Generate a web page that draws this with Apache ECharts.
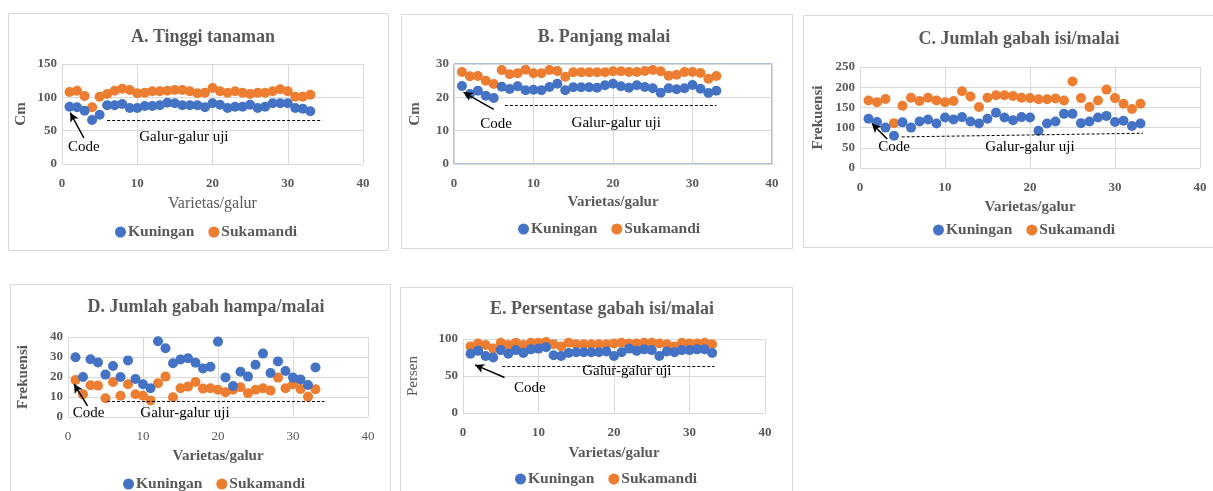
<!DOCTYPE html>
<html><head><meta charset="utf-8">
<script src="https://cdn.jsdelivr.net/npm/echarts@6/dist/echarts.min.js"></script>
<style>html,body{margin:0;padding:0;background:#fff}#c{width:1213px;height:491px}</style>
</head><body><div id="c"></div><script>
const galur = [1,2,3,4,5,6,7,8,9,10,11,12,13,14,15,16,17,18,19,20,21,22,23,24,25,26,27,28,29,30,31,32,33];
const seriesNames = ['Kuningan','Sukamandi'];
const titles = ['A. Tinggi tanaman','B. Panjang malai','C. Jumlah gabah isi/malai','D. Jumlah gabah hampa/malai','E. Persentase gabah isi/malai'];
const yNames = ['Cm','Cm','Frekuensi','Frekuensi','Persen'];
const xName = 'Varietas/galur';
const xTicks = [0,10,20,30,40];
const yMax = [150,30,250,40,100];
const yStep = [50,10,50,10,50];

const tinggiKuningan = [86,85,80,66,74,88,88,90,84,84,87,87,88,92,91,88,88,88,85,91,89,84,86,86,89,84,86,91,91,91,84,83,79];
const tinggiSukamandi = [108,110,102,85,101,105,110,113,111,106,107,109,109,110,111,111,109,106,107,114,109,107,109,107,105,107,107,109,112,109,101,101,104];
const malaiKuningan = [23.4,21.0,22.0,20.5,19.8,23.2,22.5,23.3,22.1,22.3,22.1,23.1,24.1,22.1,23.0,23.0,23.0,22.9,23.6,24.1,23.3,22.9,23.6,23.1,22.7,21.4,22.7,22.4,22.7,23.7,22.6,21.3,22.0];
const malaiSukamandi = [27.6,26.3,26.4,25.0,24.0,28.2,26.9,27.2,28.3,27.2,27.2,28.2,27.9,26.2,27.5,27.5,27.5,27.5,27.5,27.8,27.8,27.6,27.6,27.9,28.2,27.8,26.5,26.8,27.6,27.6,27.3,25.6,26.4];
const isiKuningan = [122,114,100,80,113,100,115,120,110,125,120,126,115,110,122,137,125,118,126,125,92,110,115,134,134,111,115,125,129,114,117,104,110];
const isiSukamandi = [167,163,171,111,154,174,166,174,167,163,166,190,177,151,174,180,180,178,174,173,170,170,172,167,214,173,151,167,194,173,159,146,159];
const hampaKuningan = [29.9,20.0,28.9,27.3,21.2,25.5,20.0,28.3,19.0,16.4,14.4,37.9,34.4,26.9,28.8,29.4,27.1,24.3,25.1,37.7,19.8,15.5,22.6,20.2,26.1,31.7,22.0,27.8,23.0,19.7,18.8,16.0,24.8];
const hampaSukamandi = [18.5,11.4,15.9,15.7,9.4,17.5,10.6,16.4,11.4,10.6,8.3,16.9,20.2,9.9,14.4,15.2,17.5,14.2,14.4,13.6,12.4,13.6,14.9,11.9,13.6,14.4,13.2,19.7,14.4,16.4,14.0,10.2,13.9];
const persenKuningan = [80,84,77,75,85,80,85,81,86,87,89,78,77,81,82,82,82,82,83,77,82,87,84,86,85,77,83,82,85,85,86,86,81];
const persenSukamandi = [90,94,92,87,95,92,95,92,95,95,96,93,90,95,93,93,93,93,93,94,95,94,94,95,95,94,93,90,95,94,94,95,93];

// annotations in data space: [dashStart, dashEnd], [arrowFrom, arrowTo], codeText, galurText
const dashLines = [[[6.0,65],[34.6,65]],[[6.4,17.7],[33.0,17.7]],[[4.9,77],[33.3,86]],[[5.2,7.8],[34.2,7.8]],[[5.2,63],[33.3,63]]];
const arrows = [[[2.9,39],[1.1,77]],[[5.0,16.4],[1.2,21.5]],[[3.2,72],[1.4,110]],[[2.6,5.6],[0.8,16.5]],[[5.5,48],[1.6,65]]];
const codeText = [[2.9,26],[5.3,11.9],[4.0,52],[2.75,2],[8.85,34]];
const galurText = [[16.2,40],[20.4,12.2],[20,52],[15.6,2],[21.7,57]];

const panelData = [[tinggiKuningan,tinggiSukamandi],[malaiKuningan,malaiSukamandi],[isiKuningan,isiSukamandi],[hampaKuningan,hampaSukamandi],[persenKuningan,persenSukamandi]];

const FONT = 'Liberation Serif';
const GRAY = '#595959';
const colors = ['#4472C4','#ED7D31'];
const grids = [
  {left:62,top:64,width:301,height:100},
  {left:454,top:64,width:318,height:100},
  {left:860,top:67,width:340,height:101},
  {left:68,top:337,width:300,height:80},
  {left:463,top:339,width:302,height:74}
];
const titlePos = [[198,23],[599,23],[1014,25],[201,293],[597,295]];
const legendPos = [[110,219],[513,216],[928,217],[118,471],[510,466]];
const boxes = [[8,13,380,237],[401,14,391,234],[803,15,420,232],[10,284,380,220],[400,287,392,220]];
const xNameGap = [32,31,32,32,33];
const yNameGap = [33,31,34,37,42];
const xLabelBold = [true,true,true,false,true];
const xNameBold = [false,true,true,true,true];
const yNameBold = [true,true,true,true,false];

const option = {
  animation:false,
  backgroundColor:'#fff',
  title: titles.map((t,i)=>({text:t,left:titlePos[i][0],top:titlePos[i][1],textAlign:'center',
    textStyle:{fontFamily:FONT,fontWeight:'bold',fontSize:18,color:GRAY}})),
  legend: legendPos.map(p=>({data:seriesNames,left:p[0],top:p[1],icon:'circle',itemWidth:11,itemHeight:11,itemGap:14,
    textStyle:{fontFamily:FONT,fontWeight:'bold',fontSize:15.5,color:GRAY,padding:[0,0,0,-3]}})),
  graphic: boxes.map(b=>({type:'rect',silent:true,z:-10,shape:{x:b[0]+0.5,y:b[1]+0.5,width:b[2],height:b[3]},style:{fill:'none',stroke:'#D9D9D9',lineWidth:1}})),
  grid: grids.map((g,i)=>Object.assign({containLabel:false}, g, i===1?{show:true,borderColor:'#5B7FC7',borderWidth:1}:{show:false})),
  xAxis: grids.map((g,i)=>({type:'value',gridIndex:i,min:xTicks[0],max:xTicks[xTicks.length-1],interval:10,
    name:xName,nameLocation:'middle',nameGap:xNameGap[i],
    nameTextStyle:{fontFamily:FONT,fontSize:xNameBold[i]?15:16,fontWeight:xNameBold[i]?'bold':'normal',color:GRAY},
    axisLine:{show:false},axisTick:{show:false},
    axisLabel:{fontFamily:FONT,fontSize:13,fontWeight:xLabelBold[i]?'bold':'normal',color:GRAY,margin:13},
    splitLine:{show:true,lineStyle:{color:'#D9D9D9',width:1}}})),
  yAxis: grids.map((g,i)=>({type:'value',gridIndex:i,min:0,max:yMax[i],interval:yStep[i],
    name:yNames[i],nameLocation:'middle',nameGap:yNameGap[i],nameRotate:90,
    nameTextStyle:{fontFamily:FONT,fontSize:15,fontWeight:yNameBold[i]?'bold':'normal',color:GRAY},
    axisLine:{show:false},axisTick:{show:false},
    axisLabel:{fontFamily:FONT,fontSize:13,fontWeight:'bold',color:GRAY,margin:5},
    splitLine:{show:true,lineStyle:{color:'#D9D9D9',width:1}}})),
  series: []
};

panelData.forEach((pair,i)=>{
  pair.forEach((vals,k)=>{
    const s = {type:'scatter',name:seriesNames[k],xAxisIndex:i,yAxisIndex:i,
      data: galur.map((g,j)=>[g,vals[j]]),symbol:'circle',symbolSize:10,
      itemStyle:{color:colors[k],opacity:1},z:k===0?3:2};
    if(k===0){
      s.markLine = {silent:true,animation:false,label:{show:false},symbol:['none','none'],
        data:[
          [{coord:dashLines[i][0],symbol:'none',lineStyle:{type:[3,2],color:'#000',width:1}},{coord:dashLines[i][1],symbol:'none'}],
          [{coord:arrows[i][0],symbol:'none',lineStyle:{type:'solid',color:'#000',width:1.5}},{coord:arrows[i][1],symbol:'arrow',symbolSize:[7,9]}]
        ]};
      s.markPoint = {silent:true,animation:false,symbol:'circle',symbolSize:0,
        label:{show:true,position:'inside',fontFamily:FONT,fontSize:15,color:'#000'},
        data:[
          {coord:codeText[i],label:{formatter:'Code'}},
          {coord:galurText[i],label:{formatter:'Galur-galur uji'}}
        ]};
    }
    option.series.push(s);
  });
});

const chart = echarts.init(document.getElementById('c'),null,{renderer:'canvas'});
chart.setOption(option);
</script></body></html>
